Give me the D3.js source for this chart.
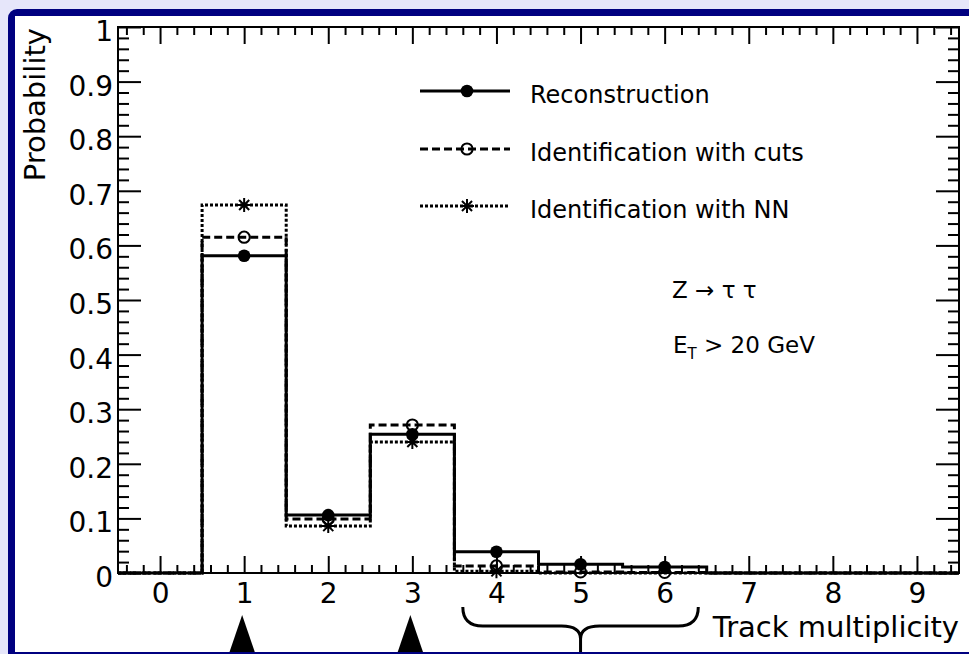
<!DOCTYPE html>
<html>
<head>
<meta charset="utf-8">
<script src="https://cdn.jsdelivr.net/npm/d3@7/dist/d3.min.js"></script>
<style>
  html, body { margin: 0; padding: 0; background: #e6e6fa; }
  svg { display: block; }
  text { font-family: "DejaVu Sans", sans-serif; fill: #000; }
</style>
</head>
<body>
<svg id="chart" width="969" height="654"></svg>
<script>
// Track multiplicity bins (0..9) and per-bin probabilities for each selection
const bins = [0, 1, 2, 3, 4, 5, 6, 7, 8, 9];
const reconstruction = [0, 0.581, 0.106, 0.254, 0.039, 0.016, 0.011, 0, 0, 0];
const idCuts         = [0, 0.615, 0.099, 0.271, 0.013, 0.002, 0.001, 0, 0, 0];
const idNN           = [0, 0.674, 0.086, 0.240, 0.003, 0, 0, 0, 0, 0];

const xTickValues = [0, 1, 2, 3, 4, 5, 6, 7, 8, 9];
const yTickValues = [0, 0.1, 0.2, 0.3, 0.4, 0.5, 0.6, 0.7, 0.8, 0.9, 1];
const yTickLabels = ["0", "0.1", "0.2", "0.3", "0.4", "0.5", "0.6", "0.7", "0.8", "0.9", "1"];

const seriesNames = ["Reconstruction", "Identification with cuts", "Identification with NN"];
const xTitle = "Track multiplicity";
const yTitle = "Probability";

const svg = d3.select("#chart");
const W = 969, H = 654;

// Page frame: navy border with rounded top-left corner and white canvas
svg.append("rect").attr("x", 0).attr("y", 0).attr("width", W).attr("height", H).attr("fill", "#e6e6fa");
svg.append("rect").attr("x", 8).attr("y", 9).attr("width", W + 20).attr("height", H + 20)
  .attr("rx", 9).attr("fill", "#000080");
svg.append("rect").attr("x", 15).attr("y", 16).attr("width", W).attr("height", 636).attr("fill", "#ffffff");

const x = d3.scaleLinear().domain([-0.5, 9.5]).range([118, 959]);
const y = d3.scaleLinear().domain([0, 1]).range([573, 27]);

const g = svg.append("g");

// Minor tick positions
const xMinor = d3.range(-2, 48).map(i => i * 0.2).filter(v => v > -0.5 && v < 9.5 && Math.abs(v - Math.round(v)) > 1e-6);
const yMinor = d3.range(0, 51).map(i => i * 0.02).filter(v => Math.abs(v * 10 - Math.round(v * 10)) > 1e-6);

function styleAxis(sel) {
  sel.select(".domain").remove();
  sel.selectAll(".tick line").attr("stroke", "#000").attr("stroke-width", 2);
}

// bottom axis: major + minor
const bottomMajor = g.append("g").attr("transform", `translate(0,${y(0)})`)
  .call(d3.axisBottom(x).tickValues(xTickValues).tickSize(-17).tickPadding(10).tickFormat(d3.format("d")));
styleAxis(bottomMajor);
bottomMajor.selectAll("text").attr("font-size", 28).attr("font-family", "DejaVu Sans").attr("fill", "#000");
const bottomMinor = g.append("g").attr("transform", `translate(0,${y(0)})`)
  .call(d3.axisBottom(x).tickValues(xMinor).tickSize(-8).tickFormat(""));
styleAxis(bottomMinor);

// top axis ticks (no labels)
const topMajor = g.append("g").attr("transform", `translate(0,${y(1)})`)
  .call(d3.axisTop(x).tickValues(xTickValues).tickSize(-17).tickFormat(""));
styleAxis(topMajor);
const topMinor = g.append("g").attr("transform", `translate(0,${y(1)})`)
  .call(d3.axisTop(x).tickValues(xMinor).tickSize(-8).tickFormat(""));
styleAxis(topMinor);

// left axis
const leftMajor = g.append("g").attr("transform", `translate(${x(-0.5)},0)`)
  .call(d3.axisLeft(y).tickValues(yTickValues).tickSize(-23).tickPadding(5)
    .tickFormat((d, i) => yTickLabels[i]));
styleAxis(leftMajor);
leftMajor.selectAll("text").attr("font-size", 28).attr("font-family", "DejaVu Sans").attr("fill", "#000")
  .attr("dy", "0.48em");
const leftMinor = g.append("g").attr("transform", `translate(${x(-0.5)},0)`)
  .call(d3.axisLeft(y).tickValues(yMinor).tickSize(-11).tickFormat(""));
styleAxis(leftMinor);

// right axis ticks
const rightMajor = g.append("g").attr("transform", `translate(${x(9.5)},0)`)
  .call(d3.axisRight(y).tickValues(yTickValues).tickSize(-23).tickFormat(""));
styleAxis(rightMajor);
const rightMinor = g.append("g").attr("transform", `translate(${x(9.5)},0)`)
  .call(d3.axisRight(y).tickValues(yMinor).tickSize(-11).tickFormat(""));
styleAxis(rightMinor);

// frame box
g.append("rect").attr("x", x(-0.5)).attr("y", y(1))
  .attr("width", x(9.5) - x(-0.5)).attr("height", y(0) - y(1))
  .attr("fill", "none").attr("stroke", "#000").attr("stroke-width", 2);

// Step outline of a histogram
function stepPath(vals) {
  const pts = [];
  vals.forEach((v, i) => { pts.push([bins[i] - 0.5, v]); pts.push([bins[i] + 0.5, v]); });
  return d3.line().x(d => x(d[0])).y(d => y(d[1]))(pts);
}

const styles = [
  { vals: reconstruction, dash: null, marker: "dot" },
  { vals: idCuts, dash: "8,4", marker: "ring" },
  { vals: idNN, dash: "3,2", marker: "star" }
];

// draw dotted first, solid last
[2, 1, 0].forEach(k => {
  const s = styles[k];
  g.append("path").attr("d", stepPath(s.vals)).attr("fill", "none")
    .attr("stroke", "#000").attr("stroke-width", 3)
    .attr("stroke-dasharray", s.dash);
});

function drawMarker(parent, type, cx, cy) {
  if (type === "dot") {
    parent.append("circle").attr("cx", cx).attr("cy", cy).attr("r", 6.3).attr("fill", "#000");
  } else if (type === "ring") {
    parent.append("circle").attr("cx", cx).attr("cy", cy).attr("r", 5.6)
      .attr("fill", "none").attr("stroke", "#000").attr("stroke-width", 2);
  } else {
    const r = 7;
    const d = r * 0.72;
    parent.append("path")
      .attr("d", `M${cx - r},${cy}L${cx + r},${cy}M${cx},${cy - r}L${cx},${cy + r}` +
        `M${cx - d},${cy - d}L${cx + d},${cy + d}M${cx - d},${cy + d}L${cx + d},${cy - d}`)
      .attr("stroke", "#000").attr("stroke-width", 2).attr("fill", "none");
  }
}

[2, 1, 0].forEach(k => {
  const s = styles[k];
  s.vals.forEach((v, i) => {
    if (v > 0) drawMarker(g, s.marker, x(bins[i]), y(v));
  });
});

// Legend
const legendY = [91, 149, 206];
styles.forEach((s, k) => {
  const ly = legendY[k];
  g.append("line").attr("x1", 420).attr("x2", 510).attr("y1", ly).attr("y2", ly)
    .attr("stroke", "#000").attr("stroke-width", 3).attr("stroke-dasharray", s.dash);
  drawMarker(g, s.marker, 467, ly);
  g.append("text").attr("x", 530).attr("y", ly + 12).attr("font-size", 24).text(seriesNames[k]);
});

// Process and cut labels
g.append("text").attr("x", 672).attr("y", 298).attr("font-size", 23).text("Z \u2192 \u03C4 \u03C4");
const et = g.append("text").attr("x", 673).attr("y", 353).attr("font-size", 23);
et.append("tspan").text("E");
et.append("tspan").attr("font-size", 15).attr("dy", 6).text("T");
et.append("tspan").attr("dy", -6).text(" > 20 GeV");

// Axis titles
g.append("text").attr("text-anchor", "end").attr("x", 959).attr("y", 637)
  .attr("font-size", 29).text(xTitle);
g.append("text").attr("text-anchor", "end")
  .attr("transform", "translate(45,28) rotate(-90)")
  .attr("font-size", 29).text(yTitle);

// Annotations below the axis: arrows at 1 and 3 tracks, brace over 4-6 tracks
const arrowAt = [1, 3];
arrowAt.forEach(v => {
  const cx = x(v) - 2;
  g.append("path").attr("d", `M${cx},615L${cx + 14},656L${cx - 14},656Z`).attr("fill", "#000");
});
const bl = x(3.6), br = x(6.4), bc = (bl + br) / 2;
g.append("path")
  .attr("d", `M${bl},607Q${bl},626 ${bl + 20},626L${bc - 19},626Q${bc},626 ${bc},639` +
    `Q${bc},626 ${bc + 19},626L${br - 20},626Q${br},626 ${br},607M${bc},637L${bc},656`)
  .attr("fill", "none").attr("stroke", "#000").attr("stroke-width", 3);

// bottom navy edge
svg.append("rect").attr("x", 8).attr("y", 652).attr("width", W).attr("height", 2).attr("fill", "#000080");
</script>
</body>
</html>
